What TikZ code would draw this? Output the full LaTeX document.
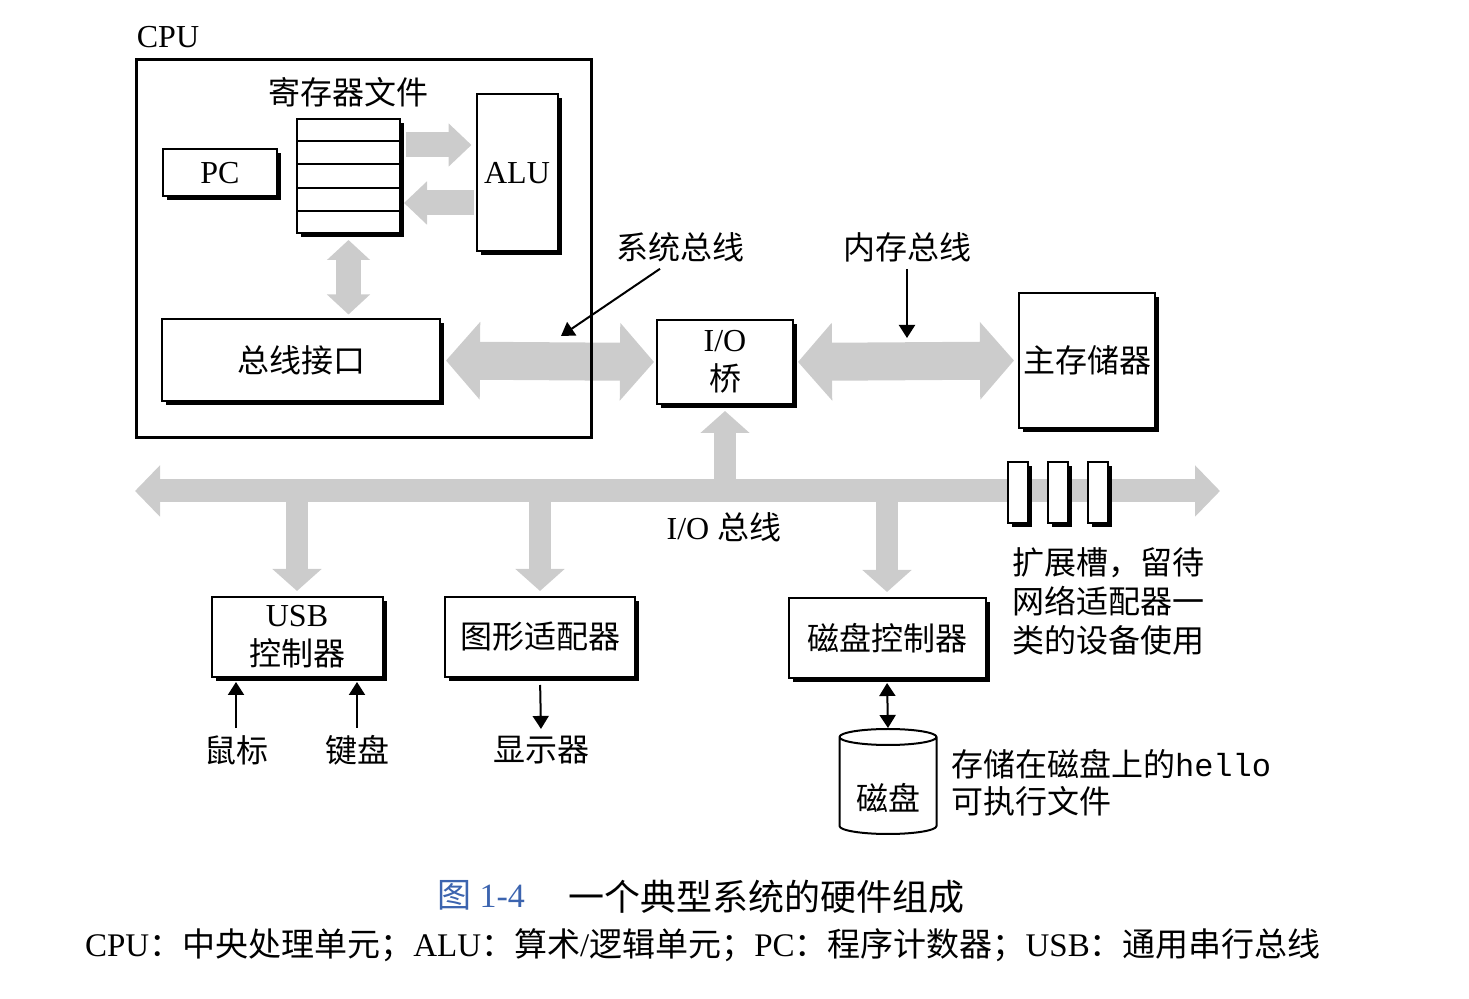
\documentclass[tikz,border=0pt]{standalone}
\usepackage{fontspec}
\setmainfont{Liberation Serif}
\newfontfamily\cjk{Noto Sans CJK SC}
\newfontfamily\codefont{Liberation Mono}
\usepackage{tikz}
\usetikzlibrary{arrows.meta,shadows,shapes.geometric,calc}
\definecolor{capblue}{RGB}{60,100,175}
\tikzset{
  hwbox/.style    = {draw,line width=1pt,fill=white,inner sep=0pt,align=center,
                     drop shadow={shadow xshift=2pt,shadow yshift=-2pt,fill=black,opacity=1}},
  bigbus/.style   = {{Triangle[length=17pt,width=38pt]}-{Triangle[length=17pt,width=38pt]},line width=19pt,gray!40},
  iobus/.style    = {{Triangle[length=12.5pt,width=25pt]}-{Triangle[length=12.5pt,width=25pt]},line width=11.5pt,gray!40},
  smallbus/.style = {-{Triangle[length=11.5pt,width=21pt]},line width=12.5pt,gray!40},
  branch/.style   = {-{Triangle[length=11pt,width=24pt]},line width=11pt,gray!40},
  thinarr/.style  = {-{Triangle[length=6.5pt,width=8pt]},line width=1pt}
}

\begin{document}
\begin{tikzpicture}[x=0.5pt,y=-0.5pt,every node/.style={font=\fontsize{16}{19.5}\selectfont}]
  \useasboundingbox (0,0) rectangle (1469,999);

  \node (cpulbl) at (168,37) {CPU};
  \node (reglbl) at (348,92) {\cjk 寄存器文件};
  \node[hwbox,minimum width=51.5pt,minimum height=57pt] (regfile) at (348.5,176) {};
  \foreach \k in {1,...,4}
    \draw[line width=1pt] ($(regfile.north west)!\k/5!(regfile.south west)$) -- ($(regfile.north east)!\k/5!(regfile.south east)$);
  \node[hwbox,minimum width=57pt,minimum height=23.5pt] (pc) at (220,173) {PC};
  \node[hwbox,minimum width=40.5pt,minimum height=78.5pt] (alu) at (517,173) {ALU};
  \node[hwbox,minimum width=139pt,minimum height=41pt] (busif) at (301,360.5) {\cjk 总线接口};
  \node[hwbox,minimum width=68pt,minimum height=42pt] (bridge) at (725,362) {I/O\\{\cjk 桥}};
  \node[hwbox,minimum width=68pt,minimum height=67.5pt] (mem) at (1087,360.5) {\cjk 主存储器};
  \node[hwbox,minimum width=85.5pt,minimum height=40pt] (usb) at (297,637) {USB\\{\cjk 控制器}};
  \node[hwbox,minimum width=95pt,minimum height=40pt] (gfx) at (540,637) {\cjk 图形适配器};
  \node[hwbox,minimum width=98.5pt,minimum height=40pt] (diskctl) at (887,638) {\cjk 磁盘控制器};
  \node[draw,line width=1pt,cylinder,shape border rotate=90,aspect=0.25,minimum width=48.5pt,minimum height=52.5pt,inner sep=0pt] (disk) at (888,786) {\raisebox{-6pt}[\height][\depth]{\cjk 磁盘}};

  \node (syslbl) at (680,247) {\cjk 系统总线};
  \node (memlbl) at (907,247) {\cjk 内存总线};
  \node (iolbl) at (724,527) {I/O {\cjk 总线}};
  \node[anchor=west,align=left] (slotlbl) at (1005,601) {\cjk 扩展槽，留待\\\cjk 网络适配器一\\\cjk 类的设备使用};
  \node (mouse) at (236,750) {\cjk 鼠标};
  \node (kbd) at (357,750) {\cjk 键盘};
  \node (disp) at (541,750) {\cjk 显示器};
  \node[anchor=west,align=left,font=\fontsize{16}{18.5}\selectfont] (hellolbl) at (944,783) {{\cjk 存储在磁盘上的}{\codefont hello}\\{\cjk 可执行文件}};

  \coordinate (iobusL) at (135,491);
  \coordinate (iobusR) at (1220,491);
  \coordinate (sysptr) at (561,336);
  \coordinate (memptr) at (907,338);

  \draw[smallbus,shorten <=2.5pt,shorten >=2pt] ([yshift=15.5pt]regfile.east) -- ([yshift=15.5pt]regfile.east -| alu.west);
  \draw[smallbus,shorten <=1pt,shorten >=1.5pt] ([yshift=-15pt]alu.west) -- ([yshift=-15pt]alu.west -| regfile.east);
  \draw[smallbus,{Triangle[length=10pt,width=21pt]}-{Triangle[length=10pt,width=21pt]},shorten <=3pt,shorten >=2pt] (regfile.south) -- (regfile.south |- busif.north);
  \draw[bigbus,shorten <=2.5pt,shorten >=1pt] (busif.east) -- (bridge.west);
  \draw[bigbus,shorten <=2pt,shorten >=2pt] (bridge.east) -- (mem.west);
  \draw[iobus] (iobusL) -- (iobusR);
  \draw[branch,shorten >=3pt] (bridge.south |- iobusL) -- (bridge.south);
  \foreach \dev in {usb,gfx,diskctl}
    \draw[branch,shorten >=2.5pt] (\dev.north |- iobusL) -- (\dev.north);
  \foreach \sx [count=\i] in {1018,1058,1098}
    \node[hwbox,minimum width=10pt,minimum height=30.5pt] (slot\i) at (\sx,493) {};

  \node[draw,line width=1.5pt,minimum width=227.5pt,minimum height=189pt] (cpu) at (364,249) {};

  \draw[thinarr] ([xshift=-10pt]syslbl.south) -- (sysptr);
  \draw[thinarr] (memlbl.south) -- (memptr);
  \draw[thinarr,shorten >=2pt] (mouse.north) -- (mouse.north |- usb.south);
  \draw[thinarr,shorten >=2pt] (kbd.north) -- (kbd.north |- usb.south);
  \draw[thinarr,shorten <=3.5pt] (gfx.south) -- (disp.north);
  \draw[{Triangle[length=6.5pt,width=8pt]}-{Triangle[length=6.5pt,width=8pt]},line width=1pt,shorten <=2pt] (diskctl.south) -- (disk.top);

  \node[text=capblue,font=\fontsize{17}{20}\selectfont] (capnum) at (481,895) {{\cjk 图} 1-4};
  \node[anchor=west,font=\fontsize{18}{21}\selectfont] (captxt) at (561,897) {\cjk 一个典型系统的硬件组成};
  \node[font=\fontsize{16.5}{20}\selectfont] (footnote) at (703,945) {CPU{\cjk ：中央处理单元；}ALU{\cjk ：算术}/{\cjk 逻辑单元；}PC{\cjk ：程序计数器；}USB{\cjk ：通用串行总线}};
\end{tikzpicture}
\end{document}
